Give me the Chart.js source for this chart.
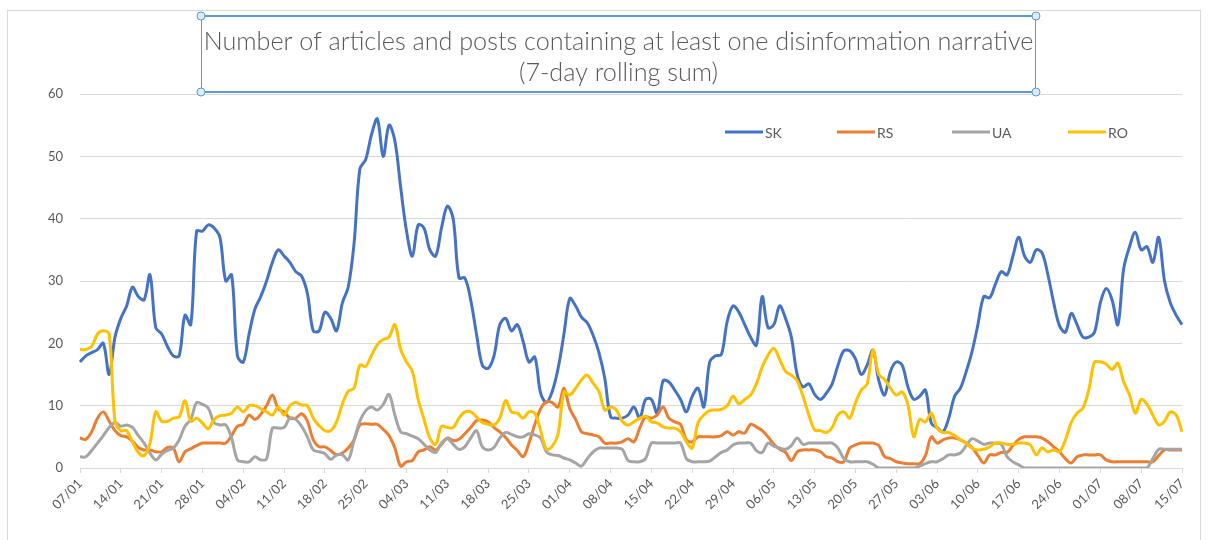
<!DOCTYPE html>
<html>
<head>
<meta charset="utf-8">
<script src="https://cdn.jsdelivr.net/npm/chart.js@4.4.1/dist/chart.umd.min.js"></script>
<style>
  html, body { margin: 0; padding: 0; background: #ffffff; }
  #wrap { width: 1212px; height: 540px; position: relative; }
</style>
</head>
<body>
<div id="wrap"><canvas id="chart" width="1212" height="540"></canvas></div>
<script>
// Daily categories, 07/01 .. 15/07 (one point per day)
const startDay = Date.UTC(2023, 0, 7);
const dayCount = 190;
const categories = [];
for (let i = 0; i < dayCount; i++) {
  const d = new Date(startDay + i * 86400000);
  categories.push(String(d.getUTCDate()).padStart(2, '0') + '/' + String(d.getUTCMonth() + 1).padStart(2, '0'));
}

// Weekly tick labels shown on the date axis
const weekTicks = ['07/01','14/01','21/01','28/01','04/02','11/02','18/02','25/02','04/03','11/03',
  '18/03','25/03','01/04','08/04','15/04','22/04','29/04','06/05','13/05','20/05','27/05','03/06',
  '10/06','17/06','24/06','01/07','08/07','15/07'];

const yTicks = [0, 10, 20, 30, 40, 50, 60];

const titleLines = ['Number of articles and posts containing at least one disinformation narrative', '(7-day rolling sum)'];

const seriesNames = ['SK', 'RS', 'UA', 'RO'];

// 7-day rolling sums per country
const SK = [
  17, 18, 18.5, 19, 20, 15, 21, 24, 26, 29,
  27.5, 27, 31, 22.5, 21.5, 19.5, 18, 18, 24.5, 23,
  38, 38, 39, 38.5, 37, 30, 31, 18, 17, 21.5,
  25.5, 27.5, 30, 33, 35, 34, 33, 31.5, 30.8, 28,
  22, 22, 25, 24, 22, 26.5, 29, 36, 48, 49.5,
  53.5, 56, 50, 55, 52.5, 45, 38, 34, 39, 38.5,
  35, 34, 38.5, 42, 40, 30.5, 30.5, 27, 21.5, 16.5,
  16, 18, 23, 24, 22, 23, 20.3, 17, 17.8, 12,
  10.5, 12.3, 16, 21.5, 27.2, 26, 24.2, 23.3, 21.3, 18.5,
  14.4, 8.2, 8, 8, 8.5, 9.8, 8, 11, 11, 8.8,
  14, 13.8, 12.5, 11, 9, 11.5, 12.8, 9.8, 17, 18,
  18.2, 23.5, 26, 25, 23, 21, 19.7, 27.5, 22.5, 23,
  26, 24, 21, 15, 13, 13.5, 11.8, 11, 12, 13.5,
  16.5, 18.8, 18.8, 17.5, 15, 16.5, 18.9, 14, 11.7, 15.5,
  17, 16.5, 13, 11, 11.5, 12.5, 7.2, 6.5, 5.8, 8,
  11.5, 12.8, 15.5, 18.7, 23, 27.5, 27.3, 29.5, 31.5, 31,
  34, 37, 34, 33, 35, 34.5, 31, 26.5, 22.8, 21.8,
  24.8, 23, 21, 21, 21.8, 26.5, 28.8, 27, 23, 32,
  35.5, 37.8, 35, 35.5, 33, 37, 30, 26.5, 24.5, 23
];

const RS = [
  4.8, 4.6, 5.8, 8, 9, 7.5, 6, 5.2, 5, 4.3,
  3.3, 2.9, 2.9, 2.6, 2.6, 3.3, 3.2, 1, 2.6, 3.1,
  3.6, 4, 4, 4, 4, 4, 5.2, 6.7, 7, 8.5,
  7.8, 8.6, 10, 11.7, 9.5, 9, 8, 8, 8.7, 7.5,
  4.5, 3.4, 3.4, 2.8, 2.1, 2.4, 3.2, 4.5, 6.9, 7.1,
  7, 7, 6.2, 5.2, 3.2, 0.3, 1, 1.2, 2.6, 2.9,
  3.4, 2.9, 3.8, 4.8, 4.4, 4.6, 5.5, 6.5, 7.6, 7.7,
  7.4, 6.5, 5.8, 4.9, 3.7, 2.8, 1.8, 4, 7, 9.5,
  10.6, 10.5, 9.8, 12.8, 9.5, 7.8, 5.8, 5.5, 5.3, 5,
  4, 4, 4, 4.2, 4.7, 4.2, 6.4, 8.2, 8, 8.5,
  9.8, 8, 7.4, 7, 4.5, 4.2, 5, 5, 5, 5,
  5.2, 5.8, 5.3, 5.8, 5.6, 7, 6.6, 6, 5, 3.8,
  3, 2.5, 1.2, 2.6, 2.9, 2.9, 2.9, 2.6, 1.8, 1.6,
  1, 1, 3.2, 3.7, 4, 4, 4, 3.6, 1.8, 1.5,
  1, 0.8, 0.7, 0.7, 0.7, 2, 5, 4, 4.5, 4.8,
  4.8, 4.5, 4, 3.3, 2, 0.8, 2.1, 2.1, 2.5, 2.5,
  3.6, 4.6, 5, 5, 5, 4.8, 4.2, 3.4, 2.6, 1.5,
  0.8, 1.8, 2.1, 2.1, 2.1, 2.1, 1.3, 1, 1, 1,
  1, 1, 1, 1, 1, 2, 2.9, 2.9, 2.9, 2.9
];

const UA = [
  1.8, 1.8, 2.8, 4, 5.2, 6.5, 7.3, 6.7, 6.9, 6.5,
  5.2, 4, 2.4, 1.3, 2.2, 2.8, 3.2, 4.5, 6.7, 7.8,
  10.5, 10.2, 9.6, 7.3, 6.9, 6.9, 4.8, 1.3, 1, 1,
  1.8, 1.3, 1.5, 6.4, 6.4, 6.5, 8, 7.8, 6.7, 5,
  2.9, 2.6, 2.3, 1.4, 2.1, 2.1, 1.3, 4.5, 7.5, 9.2,
  9.8, 9.3, 10.2, 11.8, 8.5, 5.8, 5.5, 5.1, 4.7, 3.8,
  2.9, 2.5, 4, 4.7, 3.8, 3, 3.4, 4.8, 6, 3.4,
  2.9, 3.3, 4.8, 5.7, 5.4, 5, 5, 5.5, 5.3, 4.8,
  2.6, 2.1, 2, 1.6, 1.3, 0.8, 0.3, 1.5, 2.6, 3.2,
  3.2, 3.2, 3.2, 3, 1.2, 1, 1, 1.5, 4, 4,
  4, 4, 4, 4, 1.5, 1, 1, 1, 1.1, 1.8,
  2.5, 2.9, 3.7, 4, 4, 4, 2.8, 2.5, 4, 3.5,
  3.2, 3, 3.6, 4.8, 3.8, 4, 4, 4, 4, 4,
  3.2, 1.5, 1, 1, 1, 1, 0.6, 0, 0, 0,
  0, 0, 0, 0, 0.3, 0.7, 1, 1, 1.5, 2.1,
  2.1, 2.4, 3.6, 4.7, 4.3, 3.8, 4, 4, 3.8, 1.8,
  1, 0.5, 0, 0, 0, 0, 0, 0, 0, 0,
  0, 0, 0, 0, 0, 0, 0, 0, 0, 0,
  0, 0, 0, 0, 1.5, 3, 3, 3, 3, 3
];

const RO = [
  19, 19, 19.5, 21.5, 22, 21.5, 7.5, 6, 6, 4.2,
  2.5, 2, 4, 9, 7.5, 7.5, 8, 8.2, 10.8, 7.5,
  8, 7.2, 6.3, 7.8, 8.4, 8.5, 8.8, 9.8, 9, 10,
  10, 9.5, 9, 8.5, 9.8, 8.5, 10, 10.5, 10.1, 10,
  8, 6.8, 6, 6, 7.4, 10.3, 12.3, 12.8, 16.5, 16.3,
  18.1, 19.8, 20.6, 21, 23, 19, 17, 15.5, 11, 7.8,
  4.8, 3.8, 6.7, 6.5, 6.5, 8, 9, 9, 8.2, 7.3,
  7, 6.9, 8, 10.8, 9, 8.8, 8, 9, 8.8, 6,
  3, 3.5, 5.5, 12.2, 11.7, 12.8, 14.1, 14.9, 13.6, 12.3,
  9.3, 9.8, 9.3, 7.5, 6.9, 7.4, 8, 8.3, 7.4, 7.2,
  6.6, 6.4, 6.4, 5.8, 4.2, 3.2, 7.3, 8.5, 9.2, 9.3,
  9.4, 10, 11.5, 10.3, 11, 11.7, 13.5, 16.2, 18.1, 19.2,
  17.4, 15.5, 14.9, 14, 11.5, 8.5, 6.1, 6, 5.7, 6.5,
  8.5, 9, 8, 10.5, 12.5, 13.5, 18.9, 15, 14.2, 12.8,
  11.7, 12.2, 10.1, 5, 7.8, 7.4, 8.8, 6.4, 5.7, 5.7,
  5.2, 4.5, 3.9, 3.2, 2.9, 3, 3.4, 4, 4, 3.8,
  3.8, 4, 4, 3.7, 2.1, 3.2, 2.6, 2.9, 2.6, 4.5,
  7.3, 8.8, 9.6, 12.5, 17, 17, 16.7, 15.8, 16.8, 13.8,
  11.7, 8.8, 11, 10.2, 8.5, 6.9, 7.5, 9, 8.5, 5.8
];

const seriesColors = ['#4472C4', '#ED7D31', '#A5A5A5', '#FFC000'];
const textColor = '#595959';
const gridColor = '#D9D9D9';
const fontFamily = "Lato, 'Open Sans', sans-serif";

// Outer chart frame
const framePlugin = {
  id: 'frame',
  beforeDraw(chart) {
    const ctx = chart.ctx;
    ctx.save();
    ctx.strokeStyle = gridColor;
    ctx.lineWidth = 1;
    ctx.strokeRect(7.5, 10.5, 1193, 560);
    ctx.restore();
  }
};

// Legend laid out in a single row inside the plot, upper right
const legendRowPlugin = {
  id: 'legendRow',
  afterDatasetsDraw(chart) {
    const ctx = chart.ctx;
    const starts = [725, 837, 952, 1068];
    const y = 132;
    ctx.save();
    chart.data.datasets.forEach((ds, i) => {
      const x = starts[i];
      ctx.strokeStyle = ds.borderColor;
      ctx.lineWidth = 3;
      ctx.beginPath();
      ctx.moveTo(x, y);
      ctx.lineTo(x + 38, y);
      ctx.stroke();
      ctx.fillStyle = textColor;
      ctx.font = '14px ' + fontFamily;
      ctx.textBaseline = 'middle';
      ctx.textAlign = 'left';
      ctx.fillText(ds.label, x + 40, y + 1);
    });
    ctx.restore();
  }
};

// Two-line title inside a selection box with corner handles
const titleBoxPlugin = {
  id: 'titleBox',
  afterDraw(chart) {
    const ctx = chart.ctx;
    const l = 201, r = 1036, t = 16, b = 92;
    const cx = (l + r) / 2;
    ctx.save();
    ctx.fillStyle = textColor;
    ctx.font = '300 25.2px ' + fontFamily;
    ctx.textAlign = 'center';
    ctx.textBaseline = 'middle';
    ctx.fillText(titleLines[0], cx, 42);
    ctx.fillText(titleLines[1], cx, 73);

    ctx.strokeStyle = '#5B9BD5';
    ctx.lineWidth = 2;
    ctx.beginPath();
    ctx.moveTo(l, t); ctx.lineTo(r, t);
    ctx.moveTo(l, b); ctx.lineTo(r, b);
    ctx.stroke();
    ctx.lineWidth = 1;
    ctx.beginPath();
    ctx.moveTo(l + 0.5, t); ctx.lineTo(l + 0.5, b);
    ctx.moveTo(r - 0.5, t); ctx.lineTo(r - 0.5, b);
    ctx.stroke();
    [[l, t], [r, t], [l, b], [r, b]].forEach(([x, y]) => {
      ctx.beginPath();
      ctx.arc(x, y, 4, 0, Math.PI * 2);
      ctx.fillStyle = '#DDEBF7';
      ctx.fill();
      ctx.strokeStyle = '#5B9BD5';
      ctx.lineWidth = 1;
      ctx.stroke();
    });
    ctx.restore();
  }
};

const seriesData = [SK, RS, UA, RO];

new Chart(document.getElementById('chart'), {
  type: 'line',
  data: {
    labels: categories,
    datasets: seriesNames.map((name, i) => ({
      label: name,
      data: seriesData[i],
      borderColor: seriesColors[i],
      backgroundColor: seriesColors[i],
      borderWidth: 3,
      pointRadius: 0,
      pointHoverRadius: 0,
      tension: 0.35,
      fill: false,
      order: seriesNames.length - i
    }))
  },
  options: {
    responsive: false,
    devicePixelRatio: 1,
    animation: false,
    layout: { padding: { left: 10, right: 30, top: 94, bottom: 0 } },
    plugins: {
      legend: { display: false },
      tooltip: { enabled: false },
      title: { display: false }
    },
    scales: {
      x: {
        grid: { drawOnChartArea: false, drawTicks: true, tickLength: 5, color: gridColor },
        border: { display: true, color: gridColor, width: 1 },
        ticks: {
          autoSkip: false,
          maxRotation: 45,
          minRotation: 45,
          padding: 3,
          color: textColor,
          font: { family: fontFamily, size: 13 },
          callback(value, index) {
            const lab = categories[index];
            return weekTicks.includes(lab) ? lab : null;
          }
        },
        afterFit(scale) { scale.height = 72; }
      },
      y: {
        min: yTicks[0],
        max: yTicks[yTicks.length - 1],
        grid: { color: gridColor, drawTicks: false },
        border: { display: false },
        ticks: {
          stepSize: 10,
          padding: 17,
          color: textColor,
          font: { family: fontFamily, size: 13 }
        },
        afterFit(scale) { scale.width = 70; }
      }
    }
  },
  plugins: [framePlugin, legendRowPlugin, titleBoxPlugin]
});
</script>
</body>
</html>
